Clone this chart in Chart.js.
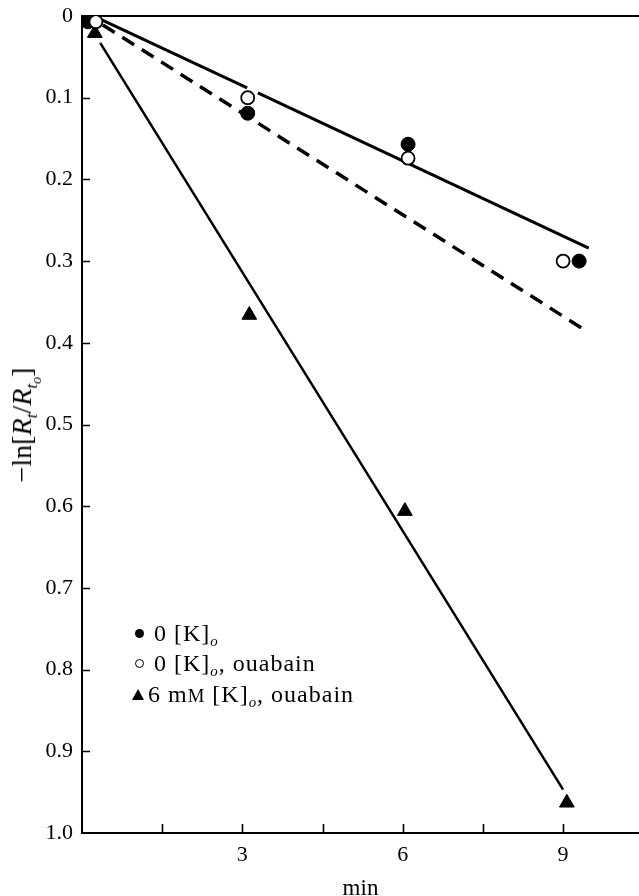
<!DOCTYPE html>
<html>
<head>
<meta charset="utf-8">
<script src="https://cdn.jsdelivr.net/npm/chart.js@4.4.1/dist/chart.umd.min.js"></script>
<style>
  body { margin: 0; background: #fff; }
  #wrap { position: relative; width: 639px; height: 896px; font-family: 'Liberation Serif', 'Times New Roman', Times, serif; color: #000; }
  #chart { position: absolute; left: 0; top: 0; }
  #ytitle { position: absolute; left: 22px; top: 425px; transform: translate(-50%, -50%) rotate(-90deg); white-space: nowrap; font-size: 28px; }
  #legend { position: absolute; left: 131px; top: 618px; font-size: 24px; letter-spacing: 1px; }
  .row { display: flex; align-items: center; height: 30.5px; white-space: nowrap; }
  .mk { display: inline-block; box-sizing: border-box; flex: none; }
  .dot { width: 9px; height: 9px; border-radius: 50%; background: #000; margin: 0 10px 0 4px; }
  .ring { width: 9px; height: 9px; border-radius: 50%; border: 1.5px solid #000; background: #fff; margin: 0 10px 0 4px; }
  .tri { width: 0; height: 0; border-left: 6px solid transparent; border-right: 6px solid transparent; border-bottom: 11px solid #000; margin: 0 4px 0 1px; }
  sub { font-size: 0.62em; vertical-align: -0.35em; line-height: 0; }
  sub sub { font-size: 0.8em; vertical-align: -0.3em; }
  .sc { font-size: 0.78em; }
</style>
</head>
<body>
<div id="wrap">
  <canvas id="chart" width="639" height="896"></canvas>
  <div id="ytitle">&minus;ln[<i>R</i><sub><i>t</i></sub>/<i>R</i><sub><i>t</i><sub><i>o</i></sub></sub>]</div>
  <div id="legend">
    <div class="row"><span class="mk dot"></span><span>0 [K]<sub><i>o</i></sub></span></div>
    <div class="row"><span class="mk ring"></span><span>0 [K]<sub><i>o</i></sub>, ouabain</span></div>
    <div class="row"><span class="mk tri"></span><span>6 m<span class="sc">M</span> [K]<sub><i>o</i></sub>, ouabain</span></div>
  </div>
</div>
<script>
// axis settings
const xMin = 0;
const xMax = 10.42;
const xTickValues = [1.5, 3, 4.5, 6, 7.5, 9];
const xLabelled = [3, 6, 9];
const yTickValues = [0, 0.1, 0.2, 0.3, 0.4, 0.5, 0.6, 0.7, 0.8, 0.9, 1.0];

// 0 [K]o (filled circles)
const filledX = [0.11, 3.1, 6.1, 9.3];
const filledY = [0.007, 0.119, 0.157, 0.300];
// 0 [K]o, ouabain (open circles)
const openX = [0.26, 3.1, 6.1, 9.0];
const openY = [0.007, 0.100, 0.174, 0.300];
// 6 mM [K]o, ouabain (triangles)
const triX = [0.24, 3.13, 6.04, 9.07];
const triY = [0.021, 0.366, 0.606, 0.963];

// fitted lines (null = break in the line around the open circle)
const fitSolidX = [0.3, 3.09, 3.19, 3.29, 9.48];
const fitSolidY = [0.0025, 0.088, null, 0.094, 0.284];
const fitDashX = [0.39, 9.35];
const fitDashY = [0.011, 0.382];
const fitTriX = [0.34, 9.0];
const fitTriY = [0.033, 0.947];

function pts(xs, ys) {
    return xs.map((x, i) => ({x: x, y: ys[i]}));
}

const serif = "'Liberation Serif', 'Times New Roman', Times, serif";

// tick marks pointing into the plot
const inwardTicks = {
    id: 'inwardTicks',
    afterDraw(chart) {
        const ctx = chart.ctx;
        const xs = chart.scales.x;
        const ys = chart.scales.y;
        ctx.save();
        ctx.strokeStyle = '#000';
        ctx.lineWidth = 1.6;
        ctx.beginPath();
        xTickValues.forEach(v => {
            const px = Math.round(xs.getPixelForValue(v)) + 0.5;
            ctx.moveTo(px, xs.top);
            ctx.lineTo(px, xs.top - 9);
        });
        yTickValues.slice(1, -1).forEach(v => {
            const py = Math.round(ys.getPixelForValue(v)) + 0.5;
            ctx.moveTo(ys.right, py);
            ctx.lineTo(ys.right + 8, py);
        });
        ctx.stroke();
        ctx.restore();
    }
};

const ctx = document.getElementById('chart').getContext('2d');

new Chart(ctx, {
    type: 'scatter',
    data: {
        datasets: [
            {
                label: '0 [K]o, ouabain',
                data: pts(openX, openY),
                pointStyle: 'circle',
                pointRadius: 6.5,
                pointBackgroundColor: '#fff',
                pointBorderColor: '#000',
                pointBorderWidth: 1.8
            },
            {
                label: '0 [K]o',
                data: pts(filledX, filledY),
                pointStyle: 'circle',
                pointRadius: 7,
                pointBackgroundColor: '#000',
                pointBorderColor: '#000',
                pointBorderWidth: 1
            },
            {
                label: '6 mM [K]o, ouabain',
                data: pts(triX, triY),
                pointStyle: 'triangle',
                pointRadius: 8.5,
                pointBackgroundColor: '#000',
                pointBorderColor: '#000',
                pointBorderWidth: 1
            },
            {
                label: 'fit 0 [K]o',
                data: pts(fitSolidX, fitSolidY),
                showLine: true,
                spanGaps: false,
                pointRadius: 0,
                borderColor: '#000',
                borderWidth: 3,
                fill: false
            },
            {
                label: 'fit 0 [K]o, ouabain',
                data: pts(fitDashX, fitDashY),
                showLine: true,
                pointRadius: 0,
                borderColor: '#000',
                borderWidth: 3.5,
                borderDash: [14, 9],
                fill: false
            },
            {
                label: 'fit 6 mM [K]o, ouabain',
                data: pts(fitTriX, fitTriY),
                showLine: true,
                pointRadius: 0,
                borderColor: '#000',
                borderWidth: 2.5,
                fill: false
            }
        ]
    },
    options: {
        responsive: false,
        animation: false,
        devicePixelRatio: 1,
        layout: {
            autoPadding: false,
            padding: {top: 16, right: 0, bottom: 0, left: 0}
        },
        plugins: {
            legend: {display: false},
            tooltip: {enabled: false}
        },
        scales: {
            x: {
                type: 'linear',
                position: 'bottom',
                min: xMin,
                max: xMax,
                afterBuildTicks: (scale) => {
                    scale.ticks = xTickValues.map(v => ({value: v}));
                },
                afterFit: (scale) => {
                    scale.height = 63;
                    scale.paddingLeft = 0;
                    scale.paddingRight = 0;
                },
                ticks: {
                    autoSkip: false,
                    maxRotation: 0,
                    padding: 9,
                    color: '#000',
                    font: {family: serif, size: 22},
                    callback: (v) => xLabelled.includes(v) ? String(v) : ''
                },
                grid: {display: false, drawTicks: false},
                border: {display: true, color: '#000', width: 2},
                title: {
                    display: true,
                    text: 'min',
                    color: '#000',
                    font: {family: serif, size: 23, lineHeight: 0.6},
                    padding: {top: 0, bottom: 0}
                }
            },
            xTop: {
                type: 'linear',
                position: 'top',
                min: xMin,
                max: xMax,
                afterFit: (scale) => {
                    scale.height = 0;
                    scale.paddingLeft = 0;
                    scale.paddingRight = 0;
                },
                ticks: {display: false},
                grid: {display: false, drawTicks: false},
                border: {display: true, color: '#000', width: 2}
            },
            y: {
                type: 'linear',
                reverse: true,
                min: 0,
                max: 1,
                afterBuildTicks: (scale) => {
                    scale.ticks = yTickValues.map(v => ({value: v}));
                },
                afterFit: (scale) => {
                    scale.width = 82;
                    scale.paddingTop = 0;
                    scale.paddingBottom = 0;
                },
                ticks: {
                    autoSkip: false,
                    padding: 9,
                    color: '#000',
                    font: {family: serif, size: 22},
                    callback: (v) => v === 0 ? '0' : v.toFixed(1)
                },
                grid: {display: false, drawTicks: false},
                border: {display: true, color: '#000', width: 2}
            }
        }
    },
    plugins: [inwardTicks]
});
</script>
</body>
</html>
